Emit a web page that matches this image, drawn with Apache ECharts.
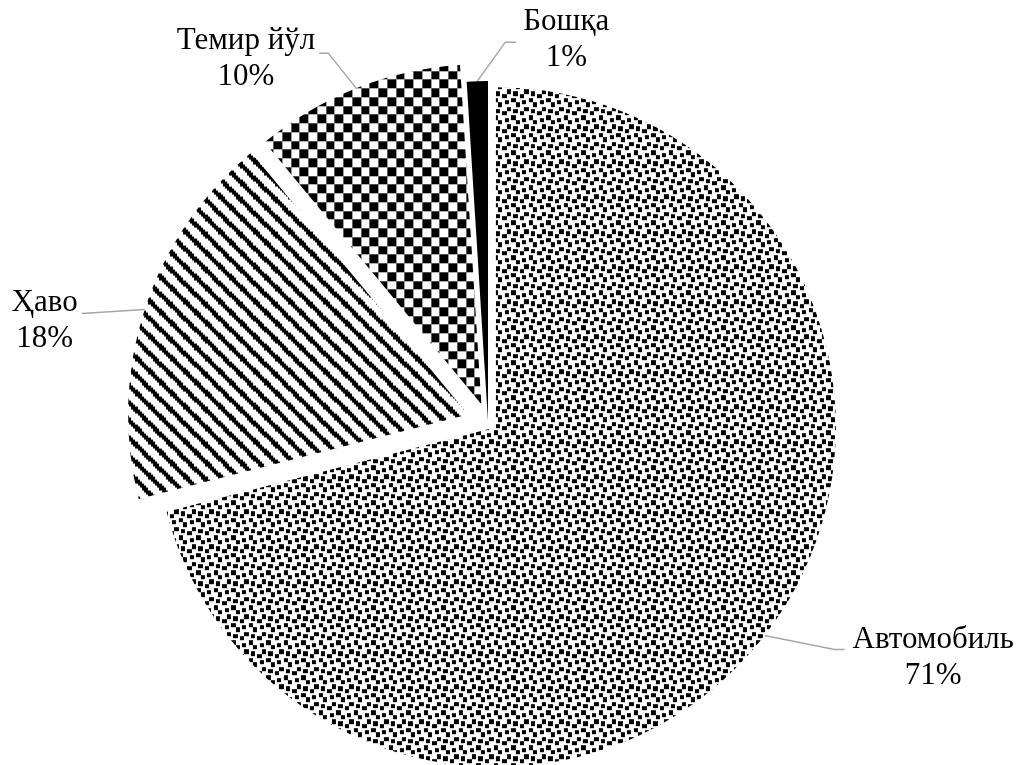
<!DOCTYPE html>
<html>
<head>
<meta charset="utf-8">
<script src="https://cdn.jsdelivr.net/npm/echarts@6/dist/echarts.min.js"></script>
<style>
html,body{margin:0;padding:0;background:#fff;}
#chart{width:1020px;height:765px;}
</style>
</head>
<body>
<div id="chart"></div>
<script>
// ---- data ----
const categories = ['Автомобиль', 'Ҳаво', 'Темир йўл', 'Бошқа'];
const shares = [71, 18, 10, 1];

// ---- styles ----
// 8x8 hatch bitmaps (Office-style patterns)
const LARGE_CONFETTI = [0xb1, 0x30, 0x03, 0x1b, 0xd8, 0xc0, 0x0c, 0x8d];
const WIDE_DOWN_DIAG = [0xe0, 0x70, 0x38, 0x1c, 0x0e, 0x07, 0x83, 0xc1];
const LARGE_CHECKER = [0xf0, 0xf0, 0xf0, 0xf0, 0x0f, 0x0f, 0x0f, 0x0f];

function hatch(bits) {
  const size = 35, n = 16, s = size / n;
  const cv = document.createElement('canvas');
  cv.width = size; cv.height = size;
  const g = cv.getContext('2d');
  g.fillStyle = '#fff'; g.fillRect(0, 0, size, size);
  g.fillStyle = '#000';
  for (let y = 0; y < n; y++) {
    for (let x = 0; x < n; x++) {
      if (bits[y % 8] & (0x80 >> (x % 8))) {
        const x0 = Math.round(x * s), x1 = Math.round((x + 1) * s);
        const y0 = Math.round(y * s), y1 = Math.round((y + 1) * s);
        g.fillRect(x0, y0, x1 - x0, y1 - y0);
      }
    }
  }
  return { image: cv, repeat: 'repeat' };
}

const PIE_CENTER = [488, 421];
const PIE_RADIUS = 340;
const fills = [hatch(LARGE_CONFETTI), hatch(WIDE_DOWN_DIAG), hatch(LARGE_CHECKER), '#000000'];
const explode = [10, 21, 18, 0];
// leader line shape relative to the (exploded) slice edge point
const leaders = [
  { bend: [70, 14], run: 10, gap: 8, dy: 8 },
  { bend: [-63, 4], run: 0, gap: 4, dy: 7 },
  { bend: [-28, -35], run: -9, gap: 4, dy: 6 },
  { bend: [28, -39], run: 11, gap: 7, dy: -2 }
];

function labelLayout(params) {
  const i = params.dataIndex;
  const L = leaders[i];
  const pts = params.labelLinePoints;
  if (!L || !pts) return {};
  // slice edge point as laid out by the pie, pushed out like its slice
  const q = pts[0];
  const vx = q[0] - PIE_CENTER[0], vy = q[1] - PIE_CENTER[1];
  const len = Math.sqrt(vx * vx + vy * vy) || 1;
  const p0 = [q[0] + explode[i] * vx / len, q[1] + explode[i] * vy / len];
  const b = [p0[0] + L.bend[0], p0[1] + L.bend[1]];
  const e = [b[0] + L.run, b[1]];
  const right = L.bend[0] > 0;
  const w = params.labelRect.width;
  return {
    x: right ? e[0] + L.gap + w / 2 : e[0] - L.gap - w / 2,
    y: e[1] + L.dy,
    align: 'center',
    verticalAlign: 'middle',
    labelLinePoints: [p0, b, e]
  };
}

const pieBase = {
  type: 'pie',
  center: PIE_CENTER,
  radius: PIE_RADIUS,
  startAngle: 90,
  clockwise: true,
  avoidLabelOverlap: false,
  percentPrecision: 0,
  animation: false,
  emphasis: { disabled: true }
};

function sliceSeries(k) {
  return Object.assign({}, pieBase, {
    selectedMode: 'multiple',
    selectedOffset: explode[k],
    itemStyle: { borderWidth: 0 },
    label: { show: false },
    labelLine: { show: false },
    data: categories.map((name, i) => ({
      name: name,
      value: shares[i],
      selected: i === k && explode[k] > 0,
      itemStyle: { color: i === k ? fills[k] : 'rgba(0,0,0,0)', borderWidth: 0 }
    }))
  });
}

const labelSeries = Object.assign({}, pieBase, {
  silent: true,
  itemStyle: { color: 'rgba(0,0,0,0)', borderWidth: 0 },
  label: {
    show: true,
    position: 'outside',
    formatter: '{b}\n{d}%',
    fontFamily: 'Liberation Serif, Times New Roman, serif',
    fontSize: 31,
    lineHeight: 36,
    color: '#000',
    align: 'center'
  },
  labelLine: {
    show: true,
    length: 20,
    length2: 10,
    lineStyle: { color: '#a6a6a6', width: 1.5 }
  },
  labelLayout: labelLayout,
  data: categories.map((name, i) => ({ name: name, value: shares[i] }))
});

const chart = echarts.init(document.getElementById('chart'), null, { renderer: 'canvas' });
chart.setOption({
  backgroundColor: '#ffffff',
  animation: false,
  series: categories.map((_, k) => sliceSeries(k)).concat([labelSeries])
});
</script>
</body>
</html>
